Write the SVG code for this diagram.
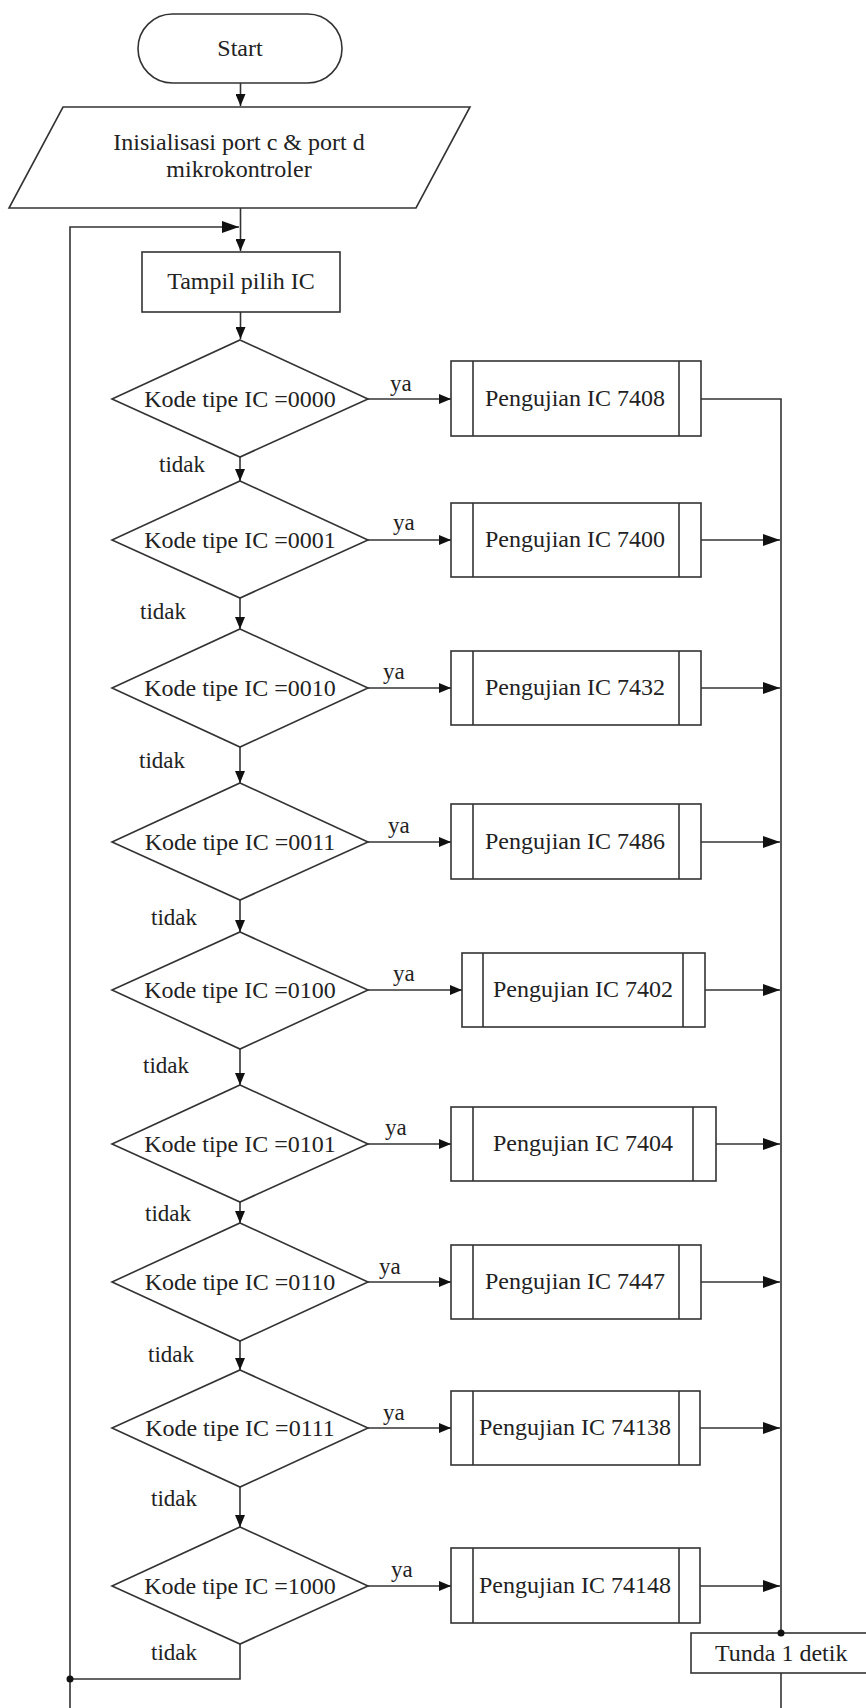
<svg xmlns="http://www.w3.org/2000/svg" width="866" height="1708" viewBox="0 0 866 1708">
<style>
.s{fill:#fff;stroke:#333;stroke-width:1.6}
.l{fill:none;stroke:#333;stroke-width:1.6}
.t{font-family:"Liberation Serif","Times New Roman",serif;font-size:24px;fill:#222}
.sm{font-size:23px}
.c{text-anchor:middle}
</style>
<defs>
<marker id="a" markerWidth="12" markerHeight="10" refX="12" refY="5" orient="auto" markerUnits="userSpaceOnUse"><path d="M0,0 L12,5 L0,10 z" fill="#111"/></marker>
<marker id="b" markerWidth="17" markerHeight="12" refX="17" refY="6" orient="auto" markerUnits="userSpaceOnUse"><path d="M0,0 L17,6 L0,12 z" fill="#111"/></marker>
</defs>
<rect width="866" height="1708" fill="#fff"/>

<g id="connectors">
<line class="l" x1="240.5" y1="83" x2="240.5" y2="106" marker-end="url(#a)"/>
<line class="l" x1="240.5" y1="208" x2="240.5" y2="251" marker-end="url(#a)"/>
<polyline class="l" points="70,1708 70,227 239,227" marker-end="url(#b)"/>
<line class="l" x1="240.5" y1="312" x2="240.5" y2="339" marker-end="url(#a)"/>
<line class="l" x1="240" y1="457" x2="240" y2="481" marker-end="url(#a)"/>
<line class="l" x1="240" y1="598" x2="240" y2="629" marker-end="url(#a)"/>
<line class="l" x1="240" y1="747" x2="240" y2="783" marker-end="url(#a)"/>
<line class="l" x1="240" y1="900" x2="240" y2="932" marker-end="url(#a)"/>
<line class="l" x1="240" y1="1049" x2="240" y2="1085" marker-end="url(#a)"/>
<line class="l" x1="240" y1="1202" x2="240" y2="1223" marker-end="url(#a)"/>
<line class="l" x1="240" y1="1341" x2="240" y2="1370" marker-end="url(#a)"/>
<line class="l" x1="240" y1="1487" x2="240" y2="1527" marker-end="url(#a)"/>
<polyline class="l" points="240,1644 240,1679 70,1679"/>
<circle cx="70" cy="1679" r="3.5" fill="#111"/>

<line class="l" x1="368" y1="399" x2="451" y2="399" marker-end="url(#a)"/>
<line class="l" x1="368" y1="540" x2="451" y2="540" marker-end="url(#a)"/>
<line class="l" x1="368" y1="688" x2="451" y2="688" marker-end="url(#a)"/>
<line class="l" x1="368" y1="842" x2="451" y2="842" marker-end="url(#a)"/>
<line class="l" x1="368" y1="990" x2="462" y2="990" marker-end="url(#a)"/>
<line class="l" x1="368" y1="1144" x2="451" y2="1144" marker-end="url(#a)"/>
<line class="l" x1="368" y1="1282" x2="451" y2="1282" marker-end="url(#a)"/>
<line class="l" x1="368" y1="1428" x2="451" y2="1428" marker-end="url(#a)"/>
<line class="l" x1="368" y1="1586" x2="451" y2="1586" marker-end="url(#a)"/>

<polyline class="l" points="701,399 781,399 781,1633"/>
<line class="l" x1="701" y1="540" x2="780" y2="540" marker-end="url(#b)"/>
<line class="l" x1="701" y1="688" x2="780" y2="688" marker-end="url(#b)"/>
<line class="l" x1="701" y1="842" x2="780" y2="842" marker-end="url(#b)"/>
<line class="l" x1="705" y1="990" x2="780" y2="990" marker-end="url(#b)"/>
<line class="l" x1="716" y1="1144" x2="780" y2="1144" marker-end="url(#b)"/>
<line class="l" x1="701" y1="1282" x2="780" y2="1282" marker-end="url(#b)"/>
<line class="l" x1="700" y1="1428" x2="780" y2="1428" marker-end="url(#b)"/>
<line class="l" x1="700" y1="1586" x2="780" y2="1586" marker-end="url(#b)"/>
<line class="l" x1="781" y1="1673" x2="781" y2="1708"/>

<g class="t sm">
<text x="390" y="391">ya</text>
<text x="393" y="530">ya</text>
<text x="383" y="679">ya</text>
<text x="388" y="833">ya</text>
<text x="393" y="981">ya</text>
<text x="385" y="1135">ya</text>
<text x="379" y="1274">ya</text>
<text x="383" y="1420">ya</text>
<text x="391" y="1577">ya</text>
<text x="159" y="472">tidak</text>
<text x="140" y="619">tidak</text>
<text x="139" y="768">tidak</text>
<text x="151" y="925">tidak</text>
<text x="143" y="1073">tidak</text>
<text x="145" y="1221">tidak</text>
<text x="148" y="1362">tidak</text>
<text x="151" y="1506">tidak</text>
<text x="151" y="1660">tidak</text>
</g>
</g>

<g id="start">
<rect class="s" x="138" y="14" width="204" height="69" rx="34.5"/>
<text class="t c" x="240" y="56">Start</text>
</g>

<g id="init">
<polygon class="s" points="63,107 470,107 416,208 9,208"/>
<text class="t c" x="239" y="150">Inisialisasi port c &amp; port d</text>
<text class="t c" x="239" y="177">mikrokontroler</text>
</g>

<g id="tampil">
<rect class="s" x="142" y="252" width="198" height="60"/>
<text class="t c" x="241" y="289">Tampil pilih IC</text>
</g>

<g id="d1"><polygon class="s" points="240,340 368,399 240,457 112,399"/><text class="t c" x="240" y="407">Kode tipe IC =0000</text></g>
<g id="d2"><polygon class="s" points="240,481 368,540 240,598 112,540"/><text class="t c" x="240" y="548">Kode tipe IC =0001</text></g>
<g id="d3"><polygon class="s" points="240,629 368,688 240,747 112,688"/><text class="t c" x="240" y="696">Kode tipe IC =0010</text></g>
<g id="d4"><polygon class="s" points="240,783 368,842 240,900 112,842"/><text class="t c" x="240" y="850">Kode tipe IC =0011</text></g>
<g id="d5"><polygon class="s" points="240,932 368,990 240,1049 112,990"/><text class="t c" x="240" y="998">Kode tipe IC =0100</text></g>
<g id="d6"><polygon class="s" points="240,1085 368,1144 240,1202 112,1144"/><text class="t c" x="240" y="1152">Kode tipe IC =0101</text></g>
<g id="d7"><polygon class="s" points="240,1223 368,1282 240,1341 112,1282"/><text class="t c" x="240" y="1290">Kode tipe IC =0110</text></g>
<g id="d8"><polygon class="s" points="240,1370 368,1428 240,1487 112,1428"/><text class="t c" x="240" y="1436">Kode tipe IC =0111</text></g>
<g id="d9"><polygon class="s" points="240,1527 368,1586 240,1644 112,1586"/><text class="t c" x="240" y="1594">Kode tipe IC =1000</text></g>

<g id="p1"><rect class="s" x="451" y="361" width="250" height="75"/><line class="l" x1="473" y1="361" x2="473" y2="436"/><line class="l" x1="679" y1="361" x2="679" y2="436"/><text class="t c" x="575" y="406">Pengujian IC 7408</text></g>
<g id="p2"><rect class="s" x="451" y="503" width="250" height="74"/><line class="l" x1="473" y1="503" x2="473" y2="577"/><line class="l" x1="679" y1="503" x2="679" y2="577"/><text class="t c" x="575" y="547">Pengujian IC 7400</text></g>
<g id="p3"><rect class="s" x="451" y="651" width="250" height="74"/><line class="l" x1="473" y1="651" x2="473" y2="725"/><line class="l" x1="679" y1="651" x2="679" y2="725"/><text class="t c" x="575" y="695">Pengujian IC 7432</text></g>
<g id="p4"><rect class="s" x="451" y="804" width="250" height="75"/><line class="l" x1="473" y1="804" x2="473" y2="879"/><line class="l" x1="679" y1="804" x2="679" y2="879"/><text class="t c" x="575" y="849">Pengujian IC 7486</text></g>
<g id="p5"><rect class="s" x="462" y="953" width="243" height="74"/><line class="l" x1="483" y1="953" x2="483" y2="1027"/><line class="l" x1="683" y1="953" x2="683" y2="1027"/><text class="t c" x="583" y="997">Pengujian IC 7402</text></g>
<g id="p6"><rect class="s" x="451" y="1107" width="265" height="74"/><line class="l" x1="473" y1="1107" x2="473" y2="1181"/><line class="l" x1="693" y1="1107" x2="693" y2="1181"/><text class="t c" x="583" y="1151">Pengujian IC 7404</text></g>
<g id="p7"><rect class="s" x="451" y="1245" width="250" height="74"/><line class="l" x1="473" y1="1245" x2="473" y2="1319"/><line class="l" x1="679" y1="1245" x2="679" y2="1319"/><text class="t c" x="575" y="1289">Pengujian IC 7447</text></g>
<g id="p8"><rect class="s" x="451" y="1391" width="249" height="74"/><line class="l" x1="473" y1="1391" x2="473" y2="1465"/><line class="l" x1="679" y1="1391" x2="679" y2="1465"/><text class="t c" x="575" y="1435">Pengujian IC 74138</text></g>
<g id="p9"><rect class="s" x="451" y="1548" width="249" height="75"/><line class="l" x1="473" y1="1548" x2="473" y2="1623"/><line class="l" x1="679" y1="1548" x2="679" y2="1623"/><text class="t c" x="575" y="1593">Pengujian IC 74148</text></g>

<g id="tunda">
<rect class="s" x="691" y="1633" width="178" height="40"/>
<circle cx="781" cy="1633" r="3.5" fill="#111"/>
<text class="t" x="715" y="1661">Tunda 1 detik</text>
</g>
</svg>
